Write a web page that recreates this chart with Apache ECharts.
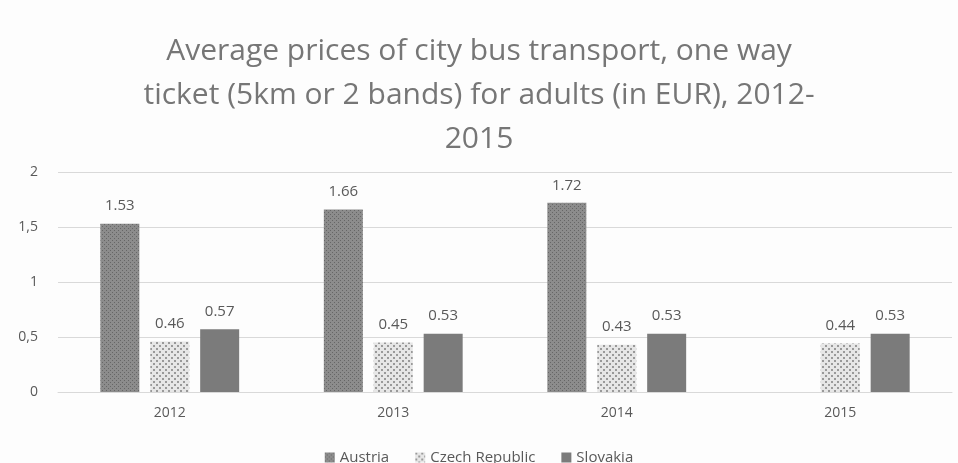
<!DOCTYPE html>
<html>
<head>
    <meta charset="UTF-8">
    <title>Bus ticket prices</title>
    <script src="https://cdn.jsdelivr.net/npm/echarts@6/dist/echarts.min.js"></script>
    <style>
        body { margin: 0; background: #fdfdfd; }
        #main { width: 958px; height: 463px; }
    </style>
</head>
<body>
    <div id="main"></div>
    <script>
        var years = ['2012', '2013', '2014', '2015'];
        var austria = [1.53, 1.66, 1.72, null];
        var czech = [0.46, 0.45, 0.43, 0.44];
        var slovakia = [0.57, 0.53, 0.53, 0.53];
        var yTicks = ['0', '0,5', '1', '1,5', '2'];

        // small canvas tiles to mimic the print patterns
        function makePattern(bg, dot, step, size) {
            var c = document.createElement('canvas');
            c.width = step * 2; c.height = step * 2;
            var g = c.getContext('2d');
            g.fillStyle = bg;
            g.fillRect(0, 0, c.width, c.height);
            g.fillStyle = dot;
            g.fillRect(0, 0, size, size);
            g.fillRect(step, step, size, size);
            return c;
        }
        var austriaFill = { image: makePattern('#8c8c8c', '#666666', 2, 1), repeat: 'repeat' };
        var czechFill = { image: makePattern('#e6e6e6', '#999999', 3, 2), repeat: 'repeat' };

        var labelStyle = {
            show: true,
            position: 'top',
            distance: 10,
            color: '#595959',
            fontSize: 15,
            fontFamily: 'Open Sans',
            formatter: function (p) { return p.value == null ? '' : p.value.toFixed(2); }
        };

        var myChart = echarts.init(document.getElementById('main'));
        var option = {
            backgroundColor: '#fdfdfd',
            animation: false,
            title: {
                text: 'Average prices of city bus transport, one way\nticket (5km or 2 bands) for adults (in EUR), 2012-\n2015',
                left: 'center',
                top: 24,
                textStyle: {
                    color: '#767676',
                    fontSize: 30,
                    fontWeight: 'normal',
                    fontFamily: 'Open Sans',
                    lineHeight: 44
                }
            },
            legend: {
                bottom: -7,
                left: 'center',
                icon: 'rect',
                itemWidth: 10,
                itemHeight: 10,
                itemGap: 26,
                textStyle: { color: '#595959', fontSize: 15, fontFamily: 'Open Sans' },
                data: ['Austria', 'Czech Republic', 'Slovakia']
            },
            grid: {
                left: 58,
                right: 6,
                top: 172,
                bottom: 71
            },
            xAxis: {
                type: 'category',
                data: years,
                axisLine: { lineStyle: { color: '#d9d9d9' } },
                axisTick: { show: false },
                axisLabel: { color: '#595959', fontSize: 14, fontFamily: 'Open Sans', margin: 14 }
            },
            yAxis: {
                type: 'value',
                min: 0,
                max: 2,
                interval: 0.5,
                axisLine: { show: false },
                axisTick: { show: false },
                splitLine: { lineStyle: { color: '#d9d9d9' } },
                axisLabel: {
                    color: '#595959',
                    fontSize: 14,
                    fontFamily: 'Open Sans',
                    margin: 20,
                    formatter: function (v) { return yTicks[Math.round(v / 0.5)]; }
                }
            },
            series: [
                {
                    name: 'Austria',
                    type: 'bar',
                    data: austria,
                    barWidth: 39,
                    barGap: '28%',
                    itemStyle: { color: austriaFill },
                    label: labelStyle
                },
                {
                    name: 'Czech Republic',
                    type: 'bar',
                    data: czech,
                    barWidth: 39,
                    itemStyle: { color: czechFill },
                    label: labelStyle
                },
                {
                    name: 'Slovakia',
                    type: 'bar',
                    data: slovakia,
                    barWidth: 39,
                    itemStyle: { color: '#7b7b7b' },
                    label: labelStyle
                }
            ]
        };
        myChart.setOption(option);
    </script>
</body>
</html>
